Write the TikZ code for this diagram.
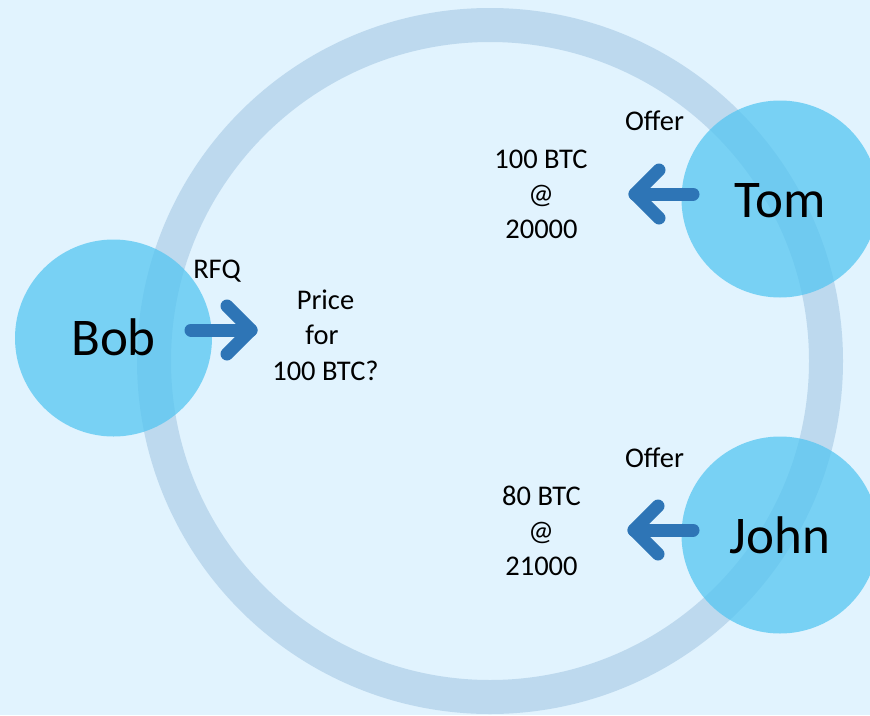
\documentclass[tikz,border=0pt]{standalone}
\usepackage{fontspec}
\setmainfont{Carlito}
\definecolor{bgc}{RGB}{225,243,254}
\definecolor{ringc}{RGB}{189,217,238}
\definecolor{bubble}{RGB}{86,198,241}
\definecolor{arrc}{RGB}{46,117,182}
\begin{document}
\begin{tikzpicture}[x=1pt,y=-1pt,
  bubblestyle/.style={circle, fill=bubble, fill opacity=0.75, minimum size=197pt, inner sep=0pt, draw=none},
  bigtext/.style={anchor=base, font=\fontsize{53}{64}\selectfont, text=black, inner sep=0pt},
  smalltext/.style={anchor=base, font=\fontsize{28.5}{34}\selectfont, text=black, inner sep=0pt},
  arrowline/.style={draw=arrc, line width=13pt, line cap=round, line join=round}]
\useasboundingbox (0,0) rectangle (870,715);
\fill[bgc] (0,0) rectangle (870,715);
% ring
\coordinate (ringc) at (490,361);
\draw[ringc, line width=34pt] (ringc) circle (336pt);
% bubbles
\node[bubblestyle] (bob) at (113.5,338) {};
\node[bubblestyle] (tom) at (780,199) {};
\node[bubblestyle] (john) at (780,535) {};
% names
\node[bigtext] (bobt) at ([yshift=-17.5pt]bob.center) {Bob};
\node[bigtext] (tomt) at ([yshift=-18pt]tom.center) {Tom};
\node[bigtext] (johnt) at ([yshift=-18pt]john.center) {John};
% arrow coordinates
\coordinate (b0) at (191,330);
\coordinate (b1) at (251,330);
\coordinate (b2) at (227,306);
\coordinate (b3) at (227,354);
\coordinate (t0) at (693,194);
\coordinate (t1) at (635,194);
\coordinate (t2) at (659,170);
\coordinate (t3) at (659,218);
\coordinate (j0) at (693,530);
\coordinate (j1) at (634,530);
\coordinate (j2) at (658,506);
\coordinate (j3) at (658,554);
\draw[arrowline] (b0) -- (b1);
\draw[arrowline] (b2) -- (b1) -- (b3);
\draw[arrowline] (t0) -- (t1);
\draw[arrowline] (t2) -- (t1) -- (t3);
\draw[arrowline] (j0) -- (j1);
\draw[arrowline] (j2) -- (j1) -- (j3);
% labels
\node[smalltext] (rfq) at (217,278) {RFQ};
\node[smalltext] (q1) at (325.5,309) {Price};
\node[smalltext] (q2) at (322,344) {for};
\node[smalltext] (q3) at (325.5,380) {100 BTC?};
\node[smalltext] (of1) at (654.5,130) {Offer};
\node[smalltext] (a1) at (541,168) {100 BTC};
\node[smalltext] (a2) at (541,203) {@};
\node[smalltext] (a3) at (541.5,238) {20000};
\node[smalltext] (of2) at (654.5,467) {Offer};
\node[smalltext] (c1) at (541.5,505) {80 BTC};
\node[smalltext] (c2) at (541,540) {@};
\node[smalltext] (c3) at (541.5,575) {21000};
\end{tikzpicture}
\end{document}
